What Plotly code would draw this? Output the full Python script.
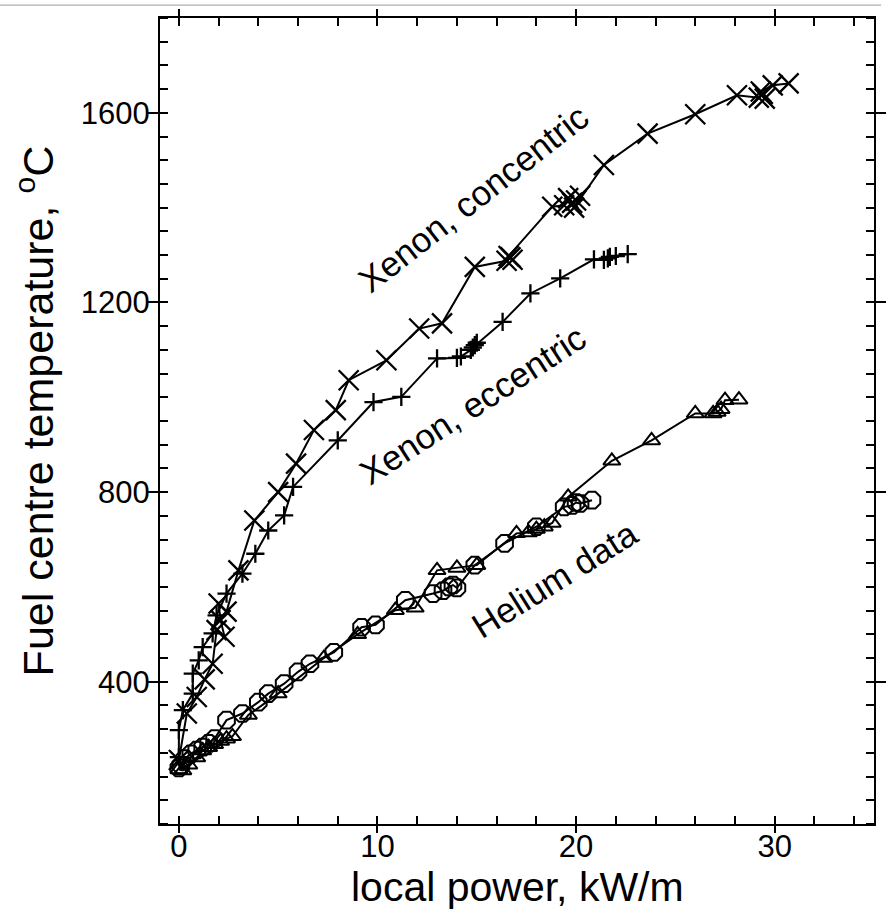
import plotly.graph_objects as go

# Xenon fill gas, pellet concentric with cladding
conc_x = [0.0, 0.4, 0.9, 1.3, 1.7, 1.9, 2.3, 2.1, 2.0, 2.4, 3.0, 3.8, 5.0, 5.9, 6.8, 7.9, 8.55,
          10.45, 12.1, 13.25, 14.9, 16.5, 16.7, 16.8, 16.6, 18.8, 19.4, 19.6, 19.8, 20.0, 20.2,
          19.9, 21.4, 23.6, 26.0, 28.1, 29.2, 29.4, 29.5, 29.3, 29.9, 30.7]
conc_y = [235, 333, 368, 405, 438, 509, 495, 530, 565, 548, 635, 740, 800, 860, 931, 973, 1036,
          1078, 1145, 1156, 1275, 1288, 1295, 1290, 1298, 1402, 1405, 1420, 1410, 1415, 1425,
          1400, 1490, 1556, 1597, 1637, 1632, 1640, 1630, 1645, 1658, 1662]

# Xenon fill gas, eccentric pellet
ecc_x = [0.0, 0.0, 0.2, 0.7, 0.7, 1.0, 1.2, 1.7, 1.9, 2.4, 3.2, 3.85, 4.5, 5.3, 5.75, 8.0, 9.8,
         11.2, 13.0, 14.0, 14.2, 14.7, 14.9, 15.0, 14.8, 16.3, 17.7, 19.2, 20.9, 21.4, 21.6,
         21.7, 22.0, 22.6]
ecc_y = [241, 298, 340, 375, 417, 445, 473, 502, 540, 586, 628, 670, 719, 751, 811, 909, 990,
         1001, 1082, 1083, 1086, 1100, 1110, 1115, 1105, 1159, 1219, 1251, 1291, 1290, 1293,
         1296, 1298, 1302]

# Helium fill gas, two rods
tri_x = [0.0, 0.2, 0.5, 0.9, 1.2, 1.5, 1.8, 2.1, 2.4, 2.7, 3.5, 5.0, 7.3, 9.0, 10.9, 11.9, 13.0,
         14.0, 15.0, 17.0, 17.6, 18.0, 18.4, 18.8, 19.6, 21.8, 23.8, 26.0, 26.9, 27.1, 27.3,
         27.5, 28.2]
tri_y = [215, 213, 225, 240, 255, 262, 268, 275, 280, 285, 330, 375, 450, 500, 551, 556, 635,
         640, 646, 713, 715, 722, 727, 735, 790, 866, 909, 966, 966, 969, 975, 994, 995]

oct_x = [0.0, 0.1, 0.3, 0.6, 0.9, 1.2, 1.5, 1.8, 2.4, 3.2, 4.0, 4.5, 5.3, 6.0, 6.6, 7.8, 9.2,
         9.9, 11.4, 12.8, 13.3, 13.6, 13.8, 14.0, 14.9, 16.4, 18.0, 19.4, 19.8, 20.0, 20.2, 20.8]
oct_y = [218, 224, 238, 248, 256, 262, 270, 280, 319, 333, 357, 375, 396, 421, 438, 462, 515,
         520, 572, 586, 592, 600, 604, 598, 646, 692, 727, 769, 772, 778, 776, 783]

x_ticks = [0, 10, 20, 30]
y_ticks = [400, 800, 1200, 1600]

# curve labels: text, x, y, angle
labels = [
    ("Xenon, concentric", 14.8, 1420, -38),
    ("Xenon, eccentric", 14.8, 985, -33),
    ("Helium data", 18.9, 616, -32),
]

FONT = "Liberation Sans, Arial, Helvetica, sans-serif"
INK = "black"

fig = go.Figure()


def series(xs, ys, symbol, size, width=2):
    fig.add_trace(go.Scatter(
        x=xs, y=ys, mode="lines+markers",
        line=dict(color=INK, width=2),
        marker=dict(symbol=symbol, size=size, color=INK,
                    line=dict(color=INK, width=width)),
        showlegend=False, hoverinfo="skip",
    ))


series(oct_x, oct_y, "octagon-open", 18)
series(tri_x, tri_y, "triangle-up-open", 15)
series(ecc_x, ecc_y, "cross-thin", 13, 2.3)
series(conc_x, conc_y, "x-thin", 20, 2.3)

xr = [-0.95, 35]
yr = [100, 1800]

axis_common = dict(showline=True, linecolor=INK, linewidth=2, mirror="allticks",
                   showgrid=False, zeroline=False, tickcolor=INK, tickwidth=2)

fig.update_layout(
    width=887, height=912,
    margin=dict(l=160, r=1, t=18, b=88),
    paper_bgcolor="white", plot_bgcolor="white",
    font=dict(family=FONT, color=INK),
    xaxis=dict(range=xr, tickvals=x_ticks, ticks="outside", ticklen=7,
               tickfont=dict(size=31), ticklabelstandoff=-13,
               minor=dict(dtick=2, ticks="inside", ticklen=8, tickwidth=2, tickcolor=INK),
               **axis_common),
    yaxis=dict(range=yr, tickvals=y_ticks, ticks="outside", ticklen=10,
               tickfont=dict(size=31), ticklabelstandoff=-8,
               minor=dict(dtick=50, ticks="inside", ticklen=8, tickwidth=2, tickcolor=INK),
               **axis_common),
    # inner halves of the major ticks
    xaxis2=dict(range=xr, overlaying="x", anchor="y", side="bottom", tickvals=x_ticks,
                ticks="inside", ticklen=8, showticklabels=False, **axis_common),
    yaxis2=dict(range=yr, overlaying="y", anchor="x", side="left", tickvals=y_ticks,
                ticks="inside", ticklen=8, showticklabels=False, **axis_common),
    shapes=[dict(type="line", xref="paper", yref="paper", x0=-0.25, x1=1.01,
                 y0=1.016, y1=1.016, line=dict(color="#999999", width=1))],
)

# invisible trace so the overlay axes are drawn
fig.add_trace(go.Scatter(x=[None], y=[None], xaxis="x2", yaxis="y2",
                         showlegend=False, hoverinfo="skip"))

# axis titles as paper-anchored labels
fig.add_annotation(x=0.5, y=-0.1092, xref="paper", yref="paper", text="local power, kW/m",
                   showarrow=False, yanchor="bottom", xanchor="center",
                   font=dict(size=41, family=FONT, color=INK))
fig.add_annotation(x=-0.175, y=0.512, xref="paper", yref="paper",
                   text="Fuel centre temperature, <sup>o</sup>C", textangle=-90,
                   showarrow=False, xanchor="center", yanchor="middle",
                   font=dict(size=43, family=FONT, color=INK))

for text, lx, ly, ang in labels:
    fig.add_annotation(x=lx, y=ly, xref="x", yref="y", text=text, showarrow=False,
                       textangle=ang, font=dict(size=35, family=FONT, color=INK))

fig.write_html("out.html")
